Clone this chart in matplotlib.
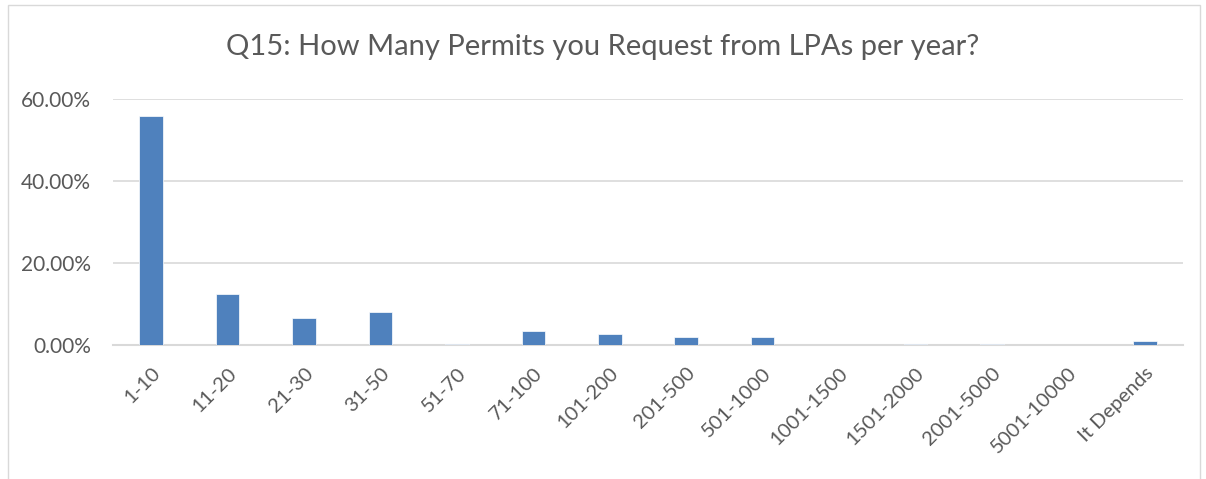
import matplotlib
matplotlib.use("Agg")
import matplotlib.pyplot as plt
from matplotlib.patches import Rectangle
from matplotlib.ticker import FuncFormatter

categories = ["1-10", "11-20", "21-30", "31-50", "51-70", "71-100", "101-200",
              "201-500", "501-1000", "1001-1500", "1501-2000", "2001-5000",
              "5001-10000", "It Depends"]
values = [55.8, 12.5, 6.7, 8.05, 0.3, 3.4, 2.8, 1.9, 1.9, 0.0, 0.3, 0.3, 0.0, 0.9]
title = "Q15: How Many Permits you Request from LPAs per year?"
yticks = [0, 20, 40, 60]

W, H = 1206, 479
fig = plt.figure(figsize=(W / 100, H / 100), dpi=100)
plt.rcParams['font.family'] = ['Lato', 'DejaVu Sans']

# outer chart border
fig.patches.append(Rectangle((8 / W, -0.1), (1200 - 8) / W, (H - 5) / H + 0.1,
                             transform=fig.transFigure, fill=False,
                             edgecolor="#D9D9D9", linewidth=1.0))

left, right = 113, 1183
top, bottom = 99, 345
ax = fig.add_axes([left / W, 1 - bottom / H, (right - left) / W, (bottom - top) / H])

x = list(range(len(categories)))
ax.bar(x, values, width=0.31, color="#4F81BD", edgecolor="#FFFFFF", linewidth=0.5, zorder=3)
ax.set_xlim(-0.5, len(categories) - 0.5)
ax.set_ylim(0, 60)
ax.set_yticks(yticks)
ax.yaxis.set_major_formatter(FuncFormatter(lambda v, p: f"{v:.2f}%"))
ax.grid(axis="y", color="#D9D9D9", linewidth=1.2, zorder=0)
for s in ["top", "right", "left"]:
    ax.spines[s].set_visible(False)
ax.spines["bottom"].set_color("#D9D9D9")
ax.spines["bottom"].set_linewidth(1.5)
ax.tick_params(axis="both", length=0, colors="#595959")
ax.tick_params(axis="y", pad=16, labelsize=15)
ax.set_xticks(x)
ax.set_xticklabels(categories, rotation=45, ha="right", rotation_mode="anchor")
ax.tick_params(axis="x", pad=14, labelsize=14.5)

fig.text(603 / W, 1 - 47 / H, title, ha="center", va="center",
         fontsize=21, color="#595959")

fig.savefig("out.png", dpi=100)
